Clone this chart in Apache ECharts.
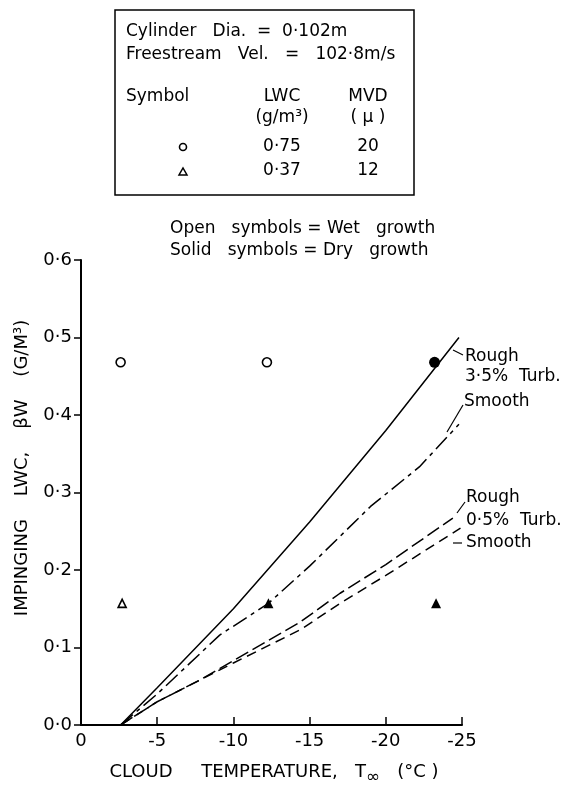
<!DOCTYPE html>
<html>
<head>
<meta charset="utf-8">
<script src="https://cdn.jsdelivr.net/npm/echarts@6/dist/echarts.min.js"></script>
<style>
  html, body { margin: 0; background: #fff; }
  #chart { width: 562px; height: 785px; }
</style>
</head>
<body>
<div id="chart"></div>
<script>
// 温度 (°C) 与 撞击水含量 LWC (g/m3)
const yTickLabels = ['0·0', '0·1', '0·2', '0·3', '0·4', '0·5', '0·6']

// 3.5% turb. 曲线
const roughHiT   = [-2.6, -5, -10, -15, -20, -24.8]
const roughHiLwc = [0, 0.048, 0.15, 0.262, 0.38, 0.5]
const smoothHiT   = [-2.6, -5, -9.1, -12.3, -15, -19, -22.2, -24.8]
const smoothHiLwc = [0, 0.04, 0.116, 0.157, 0.205, 0.282, 0.333, 0.388]
// 0.5% turb. 曲线
const roughLoT   = [-2.6, -5, -7.8, -10, -14.4, -17, -20, -24.4]
const roughLoLwc = [0, 0.03, 0.058, 0.083, 0.133, 0.17, 0.207, 0.267]
const smoothLoT   = [-2.6, -5, -7.8, -10, -14.4, -17, -20, -24.9]
const smoothLoLwc = [0, 0.03, 0.058, 0.08, 0.123, 0.157, 0.193, 0.254]

// 试验点 [温度, LWC]
const openCircles    = [[-2.6, 0.468], [-12.2, 0.468]]
const solidCircles   = [[-23.2, 0.468]]
const openTriangles  = [[-2.7, 0.157]]
const solidTriangles = [[-12.3, 0.157], [-23.3, 0.157]]

const FONT = 'DejaVu Sans'
const INK = '#000'

const zip = (xs, ys) => xs.map((x, i) => [x, ys[i]])

function lineSeries (name, data, dash) {
  return {
    name: name,
    type: 'line',
    data: data,
    showSymbol: false,
    silent: true,
    lineStyle: { color: INK, width: 1.5, type: dash },
    z: 2
  }
}

function pointSeries (name, data, symbol, size, filled) {
  return {
    name: name,
    type: 'scatter',
    data: data,
    symbol: symbol,
    symbolSize: size,
    itemStyle: {
      color: filled ? INK : '#fff',
      borderColor: INK,
      borderWidth: filled ? 0 : 1.6,
      opacity: 1
    },
    z: 5
  }
}

function txt (text, x, y, opts, size) {
  return {
    type: 'text',
    x: x,
    y: y,
    style: Object.assign({
      text: text,
      fill: INK,
      font: (size || 17) + 'px "' + FONT + '"',
      verticalAlign: 'middle'
    }, opts || {})
  }
}

function seg (x1, y1, x2, y2) {
  return {
    type: 'line',
    shape: { x1: x1, y1: y1, x2: x2, y2: y2 },
    style: { stroke: INK, lineWidth: 1.2 }
  }
}

const chart = echarts.init(document.getElementById('chart'))

// y 轴名称（竖排）
const yName = txt('IMPINGING    LWC,    βW    (G/M³)', 22, 468, { align: 'center' }, 18)
yName.rotation = Math.PI / 2

const option = {
  backgroundColor: '#fff',
  animation: false,
  grid: { left: 81, right: 100, top: 260, bottom: 60 },
  xAxis: {
    type: 'value',
    min: -25,
    max: 0,
    interval: 5,
    inverse: true,
    splitLine: { show: false },
    axisLine: { show: true, lineStyle: { color: INK, width: 2 } },
    axisTick: { show: true, inside: true, length: 8, lineStyle: { color: INK, width: 1.5 } },
    axisLabel: {
      margin: 7,
      color: INK,
      fontFamily: FONT,
      fontSize: 18,
      formatter: v => String(v)
    }
  },
  yAxis: {
    type: 'value',
    min: 0,
    max: 0.6,
    interval: 0.1,
    splitLine: { show: false },
    axisLine: { show: true, lineStyle: { color: INK, width: 2 } },
    axisTick: { show: true, length: 7, lineStyle: { color: INK, width: 1.5 } },
    axisLabel: {
      margin: 9,
      color: INK,
      fontFamily: FONT,
      fontSize: 18,
      formatter: v => yTickLabels[Math.round(v * 10)]
    }
  },
  series: [
    lineSeries('Rough 3.5%', zip(roughHiT, roughHiLwc), 'solid'),
    lineSeries('Smooth 3.5%', zip(smoothHiT, smoothHiLwc), [16, 5, 4, 5]),
    lineSeries('Rough 0.5%', zip(roughLoT, roughLoLwc), [14, 5]),
    lineSeries('Smooth 0.5%', zip(smoothLoT, smoothLoLwc), [10, 6]),
    pointSeries('open circle', openCircles, 'circle', 9, false),
    pointSeries('solid circle', solidCircles, 'circle', 11, true),
    pointSeries('open triangle', openTriangles, 'triangle', 8, false),
    pointSeries('solid triangle', solidTriangles, 'triangle', 10, true)
  ],
  graphic: [
    // 顶部说明框
    {
      type: 'rect',
      shape: { x: 115, y: 10, width: 299, height: 185 },
      style: { fill: 'none', stroke: INK, lineWidth: 1.5 }
    },
    txt('Cylinder   Dia.  =  0·102m', 126, 32),
    txt('Freestream   Vel.   =   102·8m/s', 126, 55),
    txt('Symbol', 126, 97),
    txt('LWC', 282, 97, { align: 'center' }),
    txt('MVD', 368, 97, { align: 'center' }),
    txt('(g/m³)', 282, 118, { align: 'center' }),
    txt('( μ )', 368, 118, { align: 'center' }),
    {
      type: 'circle',
      shape: { cx: 183, cy: 147, r: 3.5 },
      style: { fill: '#fff', stroke: INK, lineWidth: 1.6 }
    },
    txt('0·75', 282, 147, { align: 'center' }),
    txt('20', 368, 147, { align: 'center' }),
    {
      type: 'polygon',
      shape: { points: [[179, 175], [187, 175], [183, 168]] },
      style: { fill: '#fff', stroke: INK, lineWidth: 1.5 }
    },
    txt('0·37', 282, 171, { align: 'center' }),
    txt('12', 368, 171, { align: 'center' }),

    txt('Open   symbols = Wet   growth', 170, 229),
    txt('Solid   symbols = Dry   growth', 170, 251),

    // 曲线标注
    txt('Rough', 465, 357),
    txt('3·5%  Turb.', 465, 377),
    txt('Smooth', 464, 402),
    seg(453, 350, 463, 355),
    seg(463, 405, 447, 432),
    txt('Rough', 466, 498),
    txt('0·5%  Turb.', 466, 521),
    txt('Smooth', 466, 543),
    seg(465, 502, 457, 513),
    seg(453, 543, 462, 543),

    // 坐标轴名称
    yName,
    {
      type: 'text',
      x: 274,
      y: 772,
      style: {
        text: 'CLOUD     TEMPERATURE,   T{s|∞}   (°C )',
        fill: INK,
        font: '18px "' + FONT + '"',
        align: 'center',
        verticalAlign: 'middle',
        rich: {
          s: { fontSize: 17, fontFamily: FONT, fill: INK, padding: [12, 0, 0, 0] }
        }
      }
    }
  ]
}

chart.setOption(option)
</script>
</body>
</html>
